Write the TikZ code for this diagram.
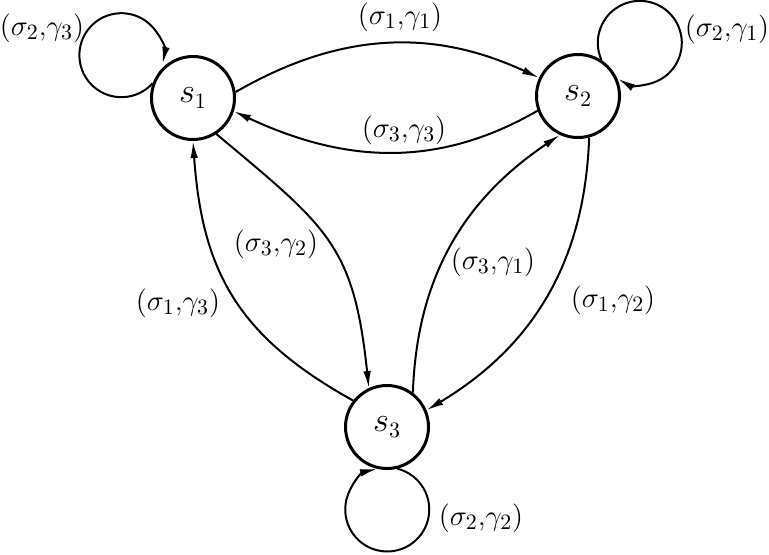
\documentclass[tikz,border=0pt]{standalone}
\usepackage{tikz}
\usetikzlibrary{arrows.meta}

\begin{document}
\begin{tikzpicture}[x=0.5pt, y=0.5pt]
    % styles
    \tikzstyle{state}=[
      draw,
      circle,
      line width=1.5pt,
      minimum size=41.5pt,
      inner sep=0pt,
      font=\fontsize{16}{18}\selectfont
    ]
    \tikzstyle{trans}=[
      -{Latex[length=8.5pt,width=3.8pt]},
      line width=1pt
    ]
    \tikzstyle{lbl}=[inner sep=0pt, font=\fontsize{15}{17}\selectfont]

    \useasboundingbox (0,0) rectangle (769,554);

    % states
    \node[state] (s1) at (193,456) {$s_1$};
    \node[state] (s2) at (578,458) {$s_2$};
    \node[state] (s3) at (387,127) {$s_3$};

    % self loops
    \draw[trans] (s1.160) arc[start angle=-42, end angle=-372, radius=42];
    \draw[trans] (s2.57) arc[start angle=204, end angle=-121, radius=42];
    \draw[trans] (s3.-76) arc[start angle=76, end angle=-256, radius=42];

    % transitions between states
    \draw[trans] (s1.8) to[out=30, in=155] (s2.155);
    \draw[trans] (s2.200) to[out=210, in=-25] (s1.-18);
    \draw[trans] (s1.-57) to[out=-40, in=96, looseness=1.25] (s3.115);
    \draw[trans] (s3.142) to[out=151, in=-86, looseness=1.1] (s1.-90);
    \draw[trans] (s3.53) to[out=88, in=214] (s2.245);
    \draw[trans] (s2.-75) to[out=-92, in=31] (s3.23);

    % labels
    \node[lbl] (l23) at (42,526) {$(\sigma_2{,}\gamma_3)$};
    \node[lbl] (l11) at (400,537) {$(\sigma_1{,}\gamma_1)$};
    \node[lbl] (l21) at (727,525) {$(\sigma_2{,}\gamma_1)$};
    \node[lbl] (l33) at (404,424) {$(\sigma_3{,}\gamma_3)$};
    \node[lbl] (l32) at (276,310) {$(\sigma_3{,}\gamma_2)$};
    \node[lbl] (l31) at (493,292) {$(\sigma_3{,}\gamma_1)$};
    \node[lbl] (l13) at (178,251) {$(\sigma_1{,}\gamma_3)$};
    \node[lbl] (l12) at (613,254) {$(\sigma_1{,}\gamma_2)$};
    \node[lbl] (l22) at (481,36) {$(\sigma_2{,}\gamma_2)$};
\end{tikzpicture}
\end{document}
